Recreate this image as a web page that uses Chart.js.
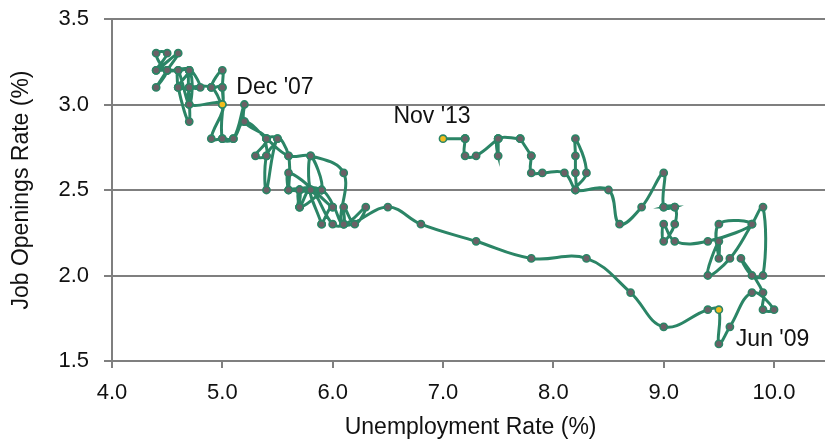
<!DOCTYPE html>
<html>
<head>
<meta charset="utf-8">
<title>Beveridge Curve</title>
<script src="https://cdn.jsdelivr.net/npm/chart.js@4.4.0/dist/chart.umd.min.js"></script>
<style>
  html, body { margin: 0; padding: 0; background: #fff; overflow: hidden; }
  #wrap { position: relative; width: 840px; height: 439px; }
</style>
</head>
<body>
<div id="wrap"><canvas id="beveridgeChart"></canvas></div>
<script>
// Monthly data, Jan 2002 - Nov 2013
const unemploymentRate = [
    5.7, 5.7, 5.7, 5.9, 5.8, 5.8, 5.9, 5.7, 5.7, 5.7, 5.9, 6.0,   // 2002
    5.8, 5.9, 5.9, 6.0, 6.1, 6.3, 6.2, 6.1, 6.1, 6.0, 5.8, 5.7,   // 2003
    5.7, 5.6, 5.8, 5.6, 5.6, 5.6, 5.5, 5.4, 5.4, 5.5, 5.4, 5.4,   // 2004
    5.3, 5.4, 5.2, 5.2, 5.1, 5.0, 5.0, 4.9, 5.0, 5.0, 5.0, 4.9,   // 2005
    4.7, 4.8, 4.7, 4.7, 4.6, 4.6, 4.7, 4.7, 4.5, 4.4, 4.5, 4.4,   // 2006
    4.6, 4.5, 4.4, 4.5, 4.4, 4.6, 4.7, 4.6, 4.7, 4.7, 4.7, 5.0,   // 2007
    4.9, 5.0, 5.1, 5.2, 5.4, 5.6, 5.8, 6.1, 6.1, 6.5, 6.8, 7.3,   // 2008
    7.8, 8.3, 8.7, 9.0, 9.4, 9.5, 9.5, 9.6, 9.8, 10.0, 9.9, 9.9,  // 2009
    9.7, 9.8, 9.9, 9.9, 9.8, 9.6, 9.4, 9.5, 9.5, 9.5, 9.8, 9.4,   // 2010
    9.1, 9.0, 9.0, 9.1, 9.1, 9.0, 9.1, 9.0, 9.0, 8.8, 8.6, 8.5,   // 2011
    8.2, 8.3, 8.2, 8.2, 8.2, 8.2, 8.1, 7.9, 7.8, 7.8, 7.8, 7.7,   // 2012
    7.7, 7.5, 7.5, 7.5, 7.5, 7.3, 7.2, 7.2, 7.2, 7.2, 7.0         // 2013
];
const jobOpeningsRate = [
    2.5, 2.5, 2.4, 2.5, 2.5, 2.7, 2.5, 2.5, 2.4, 2.5, 2.5, 2.4,   // 2002
    2.5, 2.3, 2.3, 2.4, 2.3, 2.4, 2.3, 2.4, 2.3, 2.3, 2.5, 2.4,   // 2003
    2.5, 2.5, 2.5, 2.6, 2.5, 2.7, 2.8, 2.5, 2.7, 2.8, 2.8, 2.7,   // 2004
    2.7, 2.8, 2.9, 3.0, 2.8, 2.8, 3.1, 3.1, 3.2, 3.1, 3.0, 3.1,   // 2005
    3.1, 3.1, 3.2, 2.9, 3.1, 3.2, 3.0, 3.2, 3.2, 3.3, 3.3, 3.2,   // 2006
    3.3, 3.2, 3.1, 3.2, 3.2, 3.2, 3.2, 3.1, 3.1, 3.1, 3.0, 3.0,   // 2007
    2.8, 2.8, 2.8, 2.9, 2.8, 2.7, 2.7, 2.6, 2.3, 2.4, 2.3, 2.2,   // 2008
    2.1, 2.1, 1.9, 1.7, 1.8, 1.8, 1.6, 1.7, 1.9, 1.8, 1.8, 1.9,   // 2009
    2.1, 2.0, 2.0, 2.4, 2.3, 2.1, 2.0, 2.2, 2.1, 2.3, 2.3, 2.2,   // 2010
    2.2, 2.3, 2.2, 2.3, 2.4, 2.4, 2.4, 2.4, 2.6, 2.4, 2.3, 2.5,   // 2011
    2.5, 2.6, 2.8, 2.7, 2.6, 2.5, 2.6, 2.6, 2.6, 2.7, 2.7, 2.8,   // 2012
    2.8, 2.8, 2.7, 2.8, 2.8, 2.7, 2.7, 2.8, 2.8, 2.8, 2.8         // 2013
];

// Highlighted months (index into the arrays above) and their labels
const calloutIndex = [71, 89, 142];
const calloutLabels = ["Dec '07", "Jun '09", "Nov '13"];

const xTicks = [4, 5, 6, 7, 8, 9, 10];
const yTicks = [1.5, 2.0, 2.5, 3.0, 3.5];

const FONT = '"Liberation Sans", Arial, Helvetica, sans-serif';
const GRID = '#7f7f7f';
const LINE = '#2b8566';

// Text next to the highlighted points
const calloutPlugin = {
    id: 'callouts',
    afterDatasetsDraw(chart) {
        const { ctx, scales: { x, y } } = chart;
        // [dx, dy, align] relative to the point
        const offsets = [[14, -17, 'left'], [17, 30, 'left'], [-11, -22, 'center']];
        ctx.save();
        ctx.font = '23px ' + FONT;
        ctx.fillStyle = '#111';
        ctx.textBaseline = 'middle';
        calloutIndex.forEach((idx, i) => {
            const px = x.getPixelForValue(unemploymentRate[idx]);
            const py = y.getPixelForValue(jobOpeningsRate[idx]);
            ctx.textAlign = offsets[i][2];
            ctx.fillText(calloutLabels[i], px + offsets[i][0], py + offsets[i][1]);
        });
        ctx.restore();
    }
};

new Chart(document.getElementById('beveridgeChart'), {
    type: 'scatter',
    data: {
        datasets: [{
            label: 'Beveridge Curve',
            data: unemploymentRate.map((u, i) => ({ x: u, y: jobOpeningsRate[i] })),
            showLine: true,
            tension: 0.4,
            borderColor: LINE,
            borderWidth: 3,
            pointRadius: 3.6,
            pointBorderWidth: 1.6,
            pointBorderColor: LINE,
            pointBackgroundColor: ctx => calloutIndex.includes(ctx.dataIndex) ? '#f2bd1d' : '#6b6066'
        }]
    },
    options: {
        responsive: true,
        maintainAspectRatio: false,
        animation: false,
        layout: { padding: { top: 19, right: 10.8, left: 0, bottom: 0 } },
        plugins: {
            legend: { display: false },
            tooltip: { enabled: false }
        },
        scales: {
            x: {
                type: 'linear',
                min: 4,
                max: 10.5,
                afterFit: s => { s.height = 78; s.paddingLeft = 0; s.paddingRight = 0; },
                afterBuildTicks: s => { s.ticks = xTicks.map(v => ({ value: v })); },
                grid: { drawOnChartArea: false, drawTicks: true, tickLength: 7, color: GRID, lineWidth: 2 },
                border: { display: true, color: GRID, width: 2 },
                ticks: {
                    padding: 12,
                    color: '#111',
                    font: { family: FONT, size: 22 },
                    callback: v => Number(v).toFixed(1)
                },
                title: {
                    display: true,
                    text: 'Unemployment Rate (%)',
                    color: '#111',
                    font: { family: FONT, size: 23, lineHeight: 1 },
                    padding: { top: 0, bottom: 0 }
                }
            },
            y: {
                type: 'linear',
                min: 1.5,
                max: 3.5,
                afterFit: s => { s.width = 112; s.paddingTop = 0; s.paddingBottom = 0; },
                afterBuildTicks: s => { s.ticks = yTicks.map(v => ({ value: v })); },
                grid: { drawOnChartArea: true, drawTicks: true, tickLength: 8, color: GRID, lineWidth: 2 },
                border: { display: true, color: GRID, width: 2 },
                ticks: {
                    padding: 15,
                    color: '#111',
                    font: { family: FONT, size: 22 },
                    callback: v => Number(v).toFixed(1)
                },
                title: {
                    display: true,
                    text: 'Job Openings Rate (%)',
                    color: '#111',
                    font: { family: FONT, size: 23, lineHeight: 1 },
                    padding: { top: 10.5, bottom: 0 }
                }
            }
        }
    },
    plugins: [calloutPlugin]
});
</script>
</body>
</html>
